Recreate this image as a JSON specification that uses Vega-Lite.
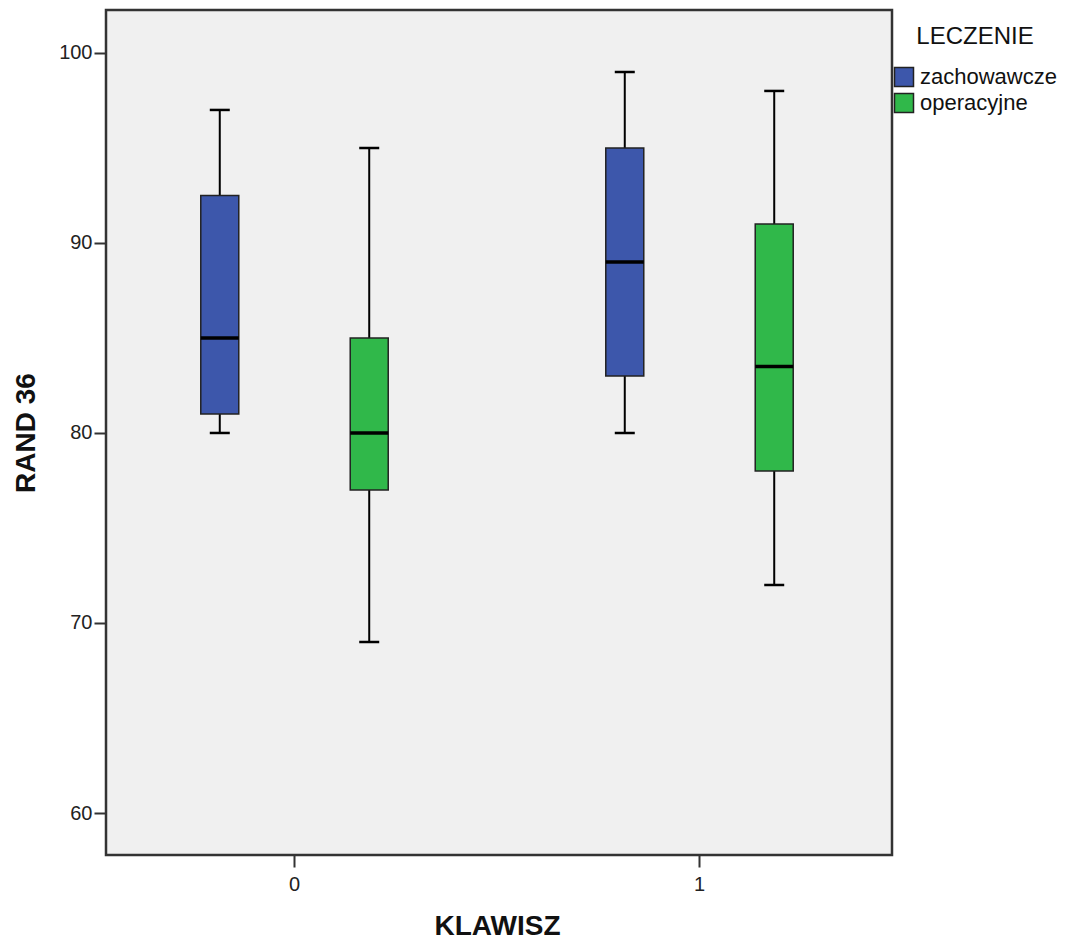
{
  "$schema": "https://vega.github.io/schema/vega-lite/v6.json",
  "autosize": {"type": "none"},
  "width": 786,
  "height": 845,
  "padding": {"left": 106, "top": 10, "right": 177, "bottom": 89},
  "background": "white",
  "config": {
    "font": "Liberation Sans",
    "view": {"fill": "#F0F0F0", "stroke": "#333333", "strokeWidth": 2.5},
    "axis": {"grid": false, "domain": false, "tickColor": "#333333", "tickWidth": 2, "tickSize": 12, "labelFont": "Liberation Sans", "labelFontSize": 20, "labelColor": "#222222", "titleFont": "Liberation Sans", "titleFontSize": 28, "titleFontWeight": "bold", "titleColor": "#111111"}
  },
  "data": {
    "values": [
      {"KLAWISZ": "0", "LECZENIE": "zachowawcze", "min": 80, "q1": 81, "median": 85, "q3": 92.5, "max": 97},
      {"KLAWISZ": "0", "LECZENIE": "operacyjne", "min": 69, "q1": 77, "median": 80, "q3": 85, "max": 95},
      {"KLAWISZ": "1", "LECZENIE": "zachowawcze", "min": 80, "q1": 83, "median": 89, "q3": 95, "max": 99},
      {"KLAWISZ": "1", "LECZENIE": "operacyjne", "min": 72, "q1": 78, "median": 83.5, "q3": 91, "max": 98}
    ]
  },
  "encoding": {
    "x": {"field": "KLAWISZ", "type": "nominal", "title": "KLAWISZ",
      "scale": {"range": [-14, 796], "paddingInner": 0, "paddingOuter": 0},
      "axis": {"labelAngle": 0, "labelPadding": 7, "titlePadding": 18}},
    "xOffset": {"field": "LECZENIE", "type": "nominal", "sort": ["zachowawcze", "operacyjne"],
      "scale": {"paddingInner": 0, "paddingOuter": 0.355}}
  },
  "layer": [
    {
      "mark": {"type": "rule", "color": "black", "strokeWidth": 2},
      "encoding": {
        "y": {"field": "min", "type": "quantitative", "title": "RAND 36",
          "scale": {"domain": [57.79, 102.26], "nice": false, "zero": false},
          "axis": {"values": [60, 70, 80, 90, 100], "labelPadding": 2, "titlePadding": 18}},
        "y2": {"field": "max"}
      }
    },
    {
      "mark": {"type": "tick", "color": "black", "size": 20, "thickness": 2.5, "opacity": 1},
      "encoding": {"y": {"field": "min", "type": "quantitative"}}
    },
    {
      "mark": {"type": "tick", "color": "black", "size": 20, "thickness": 2.5, "opacity": 1},
      "encoding": {"y": {"field": "max", "type": "quantitative"}}
    },
    {
      "mark": {"type": "bar", "size": 38, "stroke": "#222222", "strokeWidth": 1.5, "opacity": 1},
      "encoding": {
        "y": {"field": "q1", "type": "quantitative"},
        "y2": {"field": "q3"},
        "color": {"field": "LECZENIE", "type": "nominal", "sort": ["zachowawcze", "operacyjne"],
          "scale": {"domain": ["zachowawcze", "operacyjne"], "range": ["#3D57AB", "#30B84A"]},
          "legend": {"title": "LECZENIE", "orient": "none", "legendX": 787, "legendY": 15, "titleFontSize": 24, "titleFontWeight": "normal", "titleColor": "#111111", "titleFont": "Liberation Sans", "titleAnchor": "middle", "titlePadding": 17, "labelFontSize": 22, "labelColor": "#111111", "labelFont": "Liberation Sans", "symbolType": "square", "symbolSize": 361, "symbolStrokeColor": "#222222", "symbolStrokeWidth": 1.5, "symbolOpacity": 1, "labelOffset": 5, "rowPadding": 0, "padding": 0}
        }
      }
    },
    {
      "mark": {"type": "tick", "color": "black", "size": 38, "thickness": 3.5, "opacity": 1},
      "encoding": {"y": {"field": "median", "type": "quantitative"}}
    }
  ]
}
